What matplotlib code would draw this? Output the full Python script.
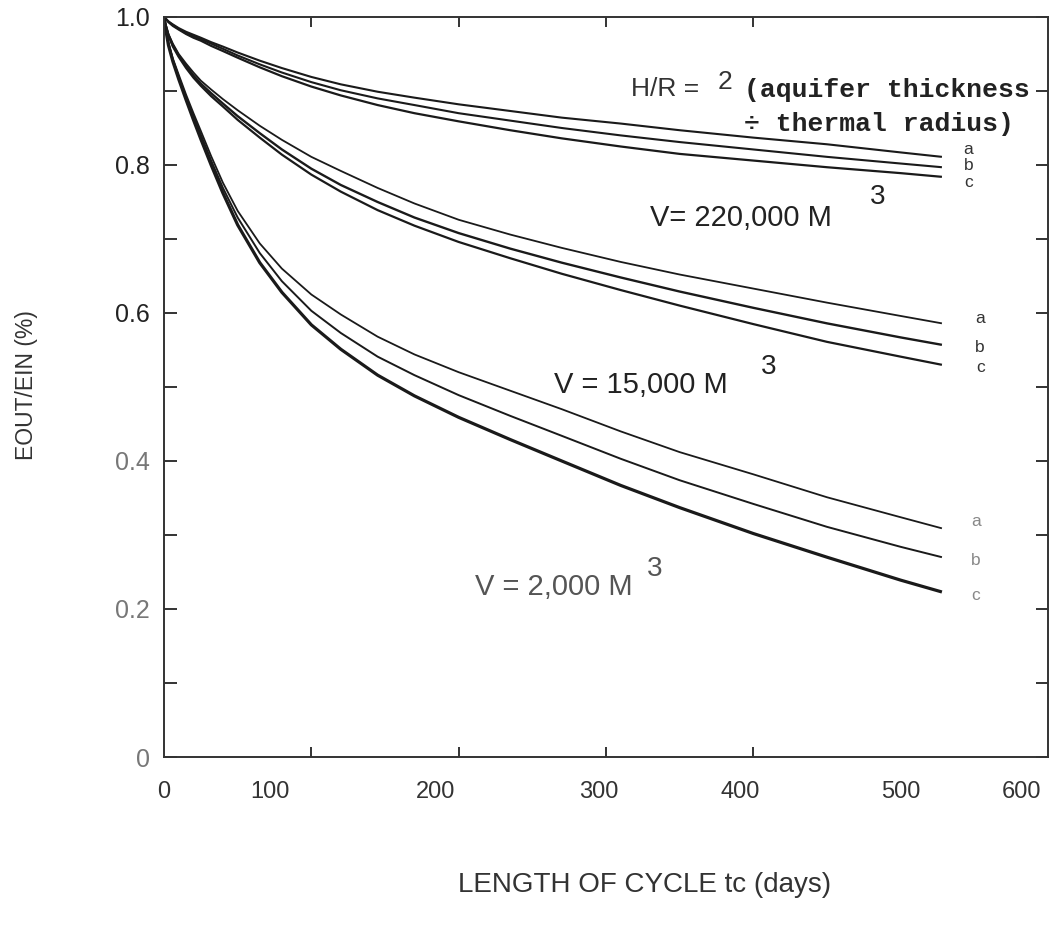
import matplotlib
matplotlib.use("Agg")
import matplotlib.pyplot as plt
from matplotlib.ticker import FixedLocator

plt.rcParams['font.family'] = ['Liberation Sans', 'DejaVu Sans']

# ---------------- data ----------------
days = [0, 1, 3, 6, 10, 15, 20, 25, 32, 40, 50, 65, 80, 100, 120, 145, 170, 200,
        235, 270, 310, 350, 400, 450, 500, 528]

# V = 220,000 m3
v220_a = [1.000, 0.998, 0.994, 0.990, 0.985, 0.980, 0.976, 0.972, 0.966, 0.960, 0.952, 0.941, 0.931,
          0.919, 0.909, 0.899, 0.891, 0.882, 0.873, 0.864, 0.856, 0.847, 0.837, 0.828, 0.817, 0.811]
v220_b = [1.000, 0.998, 0.994, 0.989, 0.984, 0.978, 0.974, 0.970, 0.964, 0.957, 0.948, 0.936, 0.925,
          0.912, 0.901, 0.890, 0.881, 0.870, 0.860, 0.850, 0.840, 0.831, 0.821, 0.811, 0.802, 0.797]
v220_c = [1.000, 0.998, 0.993, 0.988, 0.983, 0.977, 0.972, 0.968, 0.961, 0.954, 0.945, 0.932, 0.920,
          0.906, 0.894, 0.881, 0.870, 0.859, 0.847, 0.836, 0.825, 0.815, 0.806, 0.797, 0.789, 0.784]

# V = 15,000 m3
v15_a = [1.000, 0.991, 0.977, 0.964, 0.950, 0.937, 0.925, 0.914, 0.902, 0.889, 0.874, 0.853, 0.834,
         0.811, 0.792, 0.769, 0.748, 0.726, 0.706, 0.688, 0.669, 0.652, 0.633, 0.614, 0.596, 0.586]
v15_b = [1.000, 0.990, 0.976, 0.962, 0.948, 0.934, 0.921, 0.910, 0.897, 0.883, 0.866, 0.843, 0.821,
         0.795, 0.773, 0.750, 0.729, 0.708, 0.687, 0.668, 0.648, 0.629, 0.607, 0.586, 0.567, 0.557]
v15_c = [1.000, 0.990, 0.975, 0.960, 0.946, 0.931, 0.918, 0.907, 0.893, 0.879, 0.861, 0.837, 0.814,
         0.787, 0.764, 0.739, 0.718, 0.696, 0.674, 0.653, 0.631, 0.610, 0.585, 0.561, 0.541, 0.530]

# V = 2,000 m3
v2_a = [1.000, 0.987, 0.966, 0.944, 0.922, 0.895, 0.870, 0.846, 0.812, 0.776, 0.738, 0.694, 0.660,
        0.625, 0.598, 0.568, 0.544, 0.520, 0.495, 0.470, 0.440, 0.412, 0.382, 0.351, 0.324, 0.309]
v2_b = [1.000, 0.986, 0.964, 0.942, 0.919, 0.892, 0.866, 0.841, 0.806, 0.769, 0.729, 0.681, 0.643,
        0.603, 0.573, 0.541, 0.516, 0.489, 0.461, 0.434, 0.403, 0.374, 0.342, 0.311, 0.284, 0.270]
v2_c = [1.000, 0.985, 0.962, 0.940, 0.916, 0.888, 0.861, 0.835, 0.800, 0.762, 0.719, 0.668, 0.628,
        0.584, 0.551, 0.516, 0.488, 0.459, 0.429, 0.400, 0.367, 0.337, 0.302, 0.270, 0.239, 0.223]

x_tick_marks = [100, 200, 300, 400, 500]
x_label_pos = [0, 72, 184, 295, 391, 500, 582]
x_labels = ['0', '100', '200', '300', '400', '500', '600']
y_major = [0, 0.2, 0.4, 0.6, 0.8, 1.0]
y_labels = ['0', '0.2', '0.4', '0.6', '0.8', '1.0']
y_minor = [0.1, 0.3, 0.5, 0.7, 0.9]

# ---------------- figure ----------------
W, H = 1052, 930
fig = plt.figure(figsize=(W / 100, H / 100), dpi=100)
ax = fig.add_axes([164 / W, 1 - 757 / H, (1048 - 164) / W, (757 - 17) / H])
ax.set_xlim(0, 600)
ax.set_ylim(0, 1.0)

ink = '#1a1a1a'
for ys, lw in [(v220_a, 1.5), (v220_b, 1.5), (v220_c, 1.6),
               (v15_a, 1.3), (v15_b, 1.7), (v15_c, 1.6),
               (v2_a, 1.3), (v2_b, 1.4), (v2_c, 2.3)]:
    ax.plot(days, ys, color=ink, lw=lw, solid_capstyle='butt', solid_joinstyle='round')

# spines
for s in ax.spines.values():
    s.set_color('#333333')
    s.set_linewidth(1.4)

# ticks
ax.xaxis.set_major_locator(FixedLocator(x_label_pos))
ax.set_xticklabels(x_labels)
ax.xaxis.set_minor_locator(FixedLocator(x_tick_marks))
ax.tick_params(axis='x', which='major', length=0, pad=17, labelsize=17,
               labelcolor='#333333', top=False)
ax.tick_params(axis='x', which='minor', direction='in', length=7, width=1.4,
               top=True, bottom=True, color='#333333')

ax.yaxis.set_major_locator(FixedLocator(y_major))
ax.set_yticklabels(y_labels)
ax.yaxis.set_minor_locator(FixedLocator(y_minor))
ax.tick_params(axis='y', which='both', direction='in', length=9, width=1.4,
               left=True, right=True, color='#333333')
ax.tick_params(axis='y', which='major', pad=10, labelsize=18, labelcolor='#222222')
for lab in ax.get_yticklabels():
    if lab.get_text() in ('0', '0.2', '0.4'):
        lab.set_color('#777777')

# annotations
ax.text(317, 0.903, 'H/R =', fontsize=19, color='#333333', va='center', ha='left')
ax.text(376, 0.912, '2', fontsize=19, color='#333333', va='center', ha='left')
ax.text(394, 0.901, '(aquifer thickness', fontsize=19, family='Liberation Mono',
        fontweight='bold', color='#222222', va='center', ha='left')
ax.text(394, 0.856, '\u00f7 thermal radius)', fontsize=19, family='Liberation Mono',
        fontweight='bold', color='#222222', va='center', ha='left')

ax.text(330, 0.728, 'V= 220,000 M', fontsize=21, color='#222222', va='center', ha='left')
ax.text(479, 0.757, '3', fontsize=20, color='#222222', va='center', ha='left')
ax.text(265, 0.503, 'V = 15,000 M', fontsize=21, color='#222222', va='center', ha='left')
ax.text(405, 0.527, '3', fontsize=20, color='#222222', va='center', ha='left')
ax.text(211, 0.230, 'V = 2,000 M', fontsize=21, color='#555555', va='center', ha='left')
ax.text(328, 0.254, '3', fontsize=20, color='#555555', va='center', ha='left')

for txt, xx, yy, c in [('a', 546, 0.821, '#333333'), ('b', 546, 0.800, '#333333'), ('c', 546, 0.777, '#333333'),
                       ('a', 554, 0.593, '#333333'), ('b', 554, 0.554, '#333333'), ('c', 554, 0.526, '#333333'),
                       ('a', 551, 0.318, '#888888'), ('b', 551, 0.266, '#888888'), ('c', 551, 0.218, '#888888')]:
    ax.text(xx, yy, txt, fontsize=12.5, color=c, va='center', ha='center')

ax.set_ylabel('EOUT/EIN (%)', fontsize=16.5, color='#333333')
ax.yaxis.set_label_coords(-0.1425, 0.503)
fig.text(645 / W, 1 - 885 / H, 'LENGTH OF CYCLE tc (days)', fontsize=20,
         color='#333333', ha='center', va='center')

fig.savefig('out.png', dpi=100)
